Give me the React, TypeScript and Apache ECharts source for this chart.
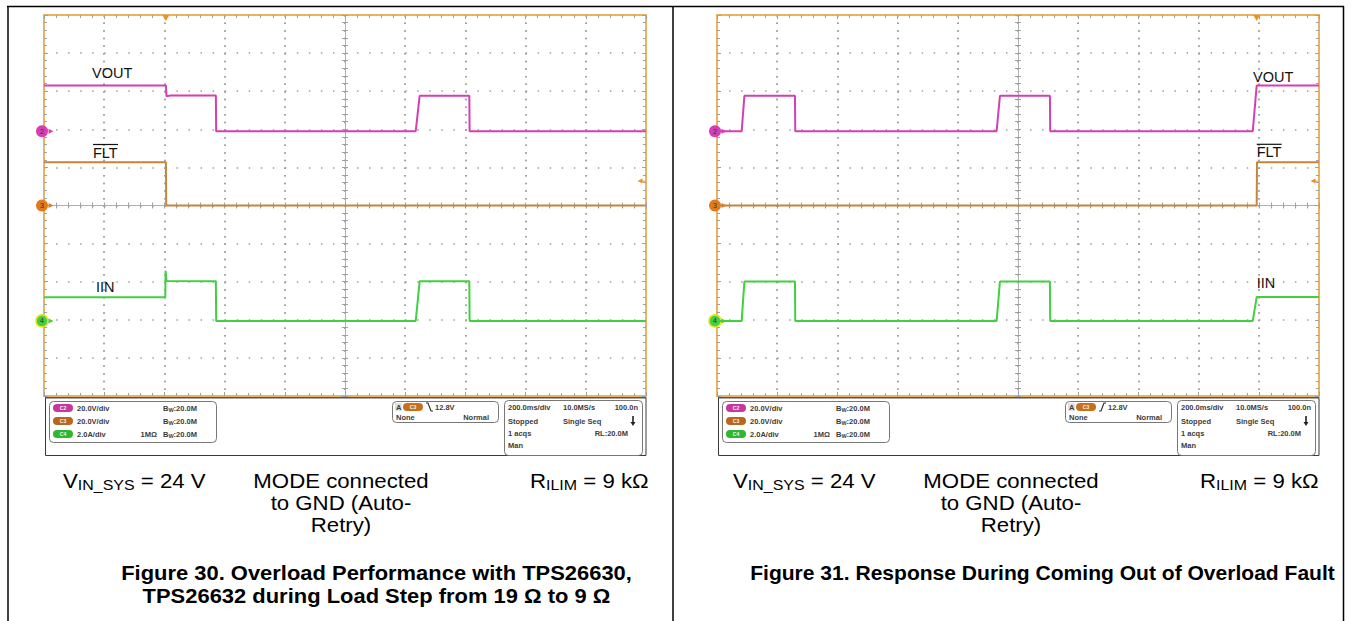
import React, { useEffect, useRef } from "react";
import * as echarts from "echarts";

// ---------- scope settings (shared by both captures) ----------
const msPerDiv = 200; // 200.0 ms/div
const timeDivs = 10;
const vertHalfDivs = 5;
const voutVoltsPerDiv = 20; // C2 20.0 V/div
const fltVoltsPerDiv = 20; // C3 20.0 V/div
const iinAmpsPerDiv = 2; // C4 2.0 A/div
const voutOffsetDiv = 1.95;
const fltOffsetDiv = 0;
const iinOffsetDiv = -3.03;
const triggerLevelV = 12.8;

// ---------- Figure 30: [screen time ms, value] ----------
const fig30Vout = [[0, 24], [405, 24], [407, 18.4], [420, 18.7], [571, 18.7], [572, 0], [1235, 0], [1248, 18.6], [1413, 18.6], [1414, 0], [2000, 0]];
const fig30Flt = [[0, 22.7], [405, 22.7], [406, 0], [2000, 0]];
const fig30Iin = [[0, 1.24], [403, 1.24], [404, 2.63], [407, 2.1], [571, 2.08], [572, 0], [1235, 0], [1248, 2.08], [1413, 2.08], [1414, 0], [2000, 0]];
const fig30TriggerMs = 405;

// ---------- Figure 31: [screen time ms, value] ----------
const fig31Vout = [[0, 0], [82, 0], [91, 18.6], [259, 18.6], [260, 0], [929, 0], [940, 18.6], [1106, 18.6], [1107, 0], [1780, 0], [1793, 24], [2000, 24]];
const fig31Flt = [[0, 0], [1793, 0], [1794, 22.7], [2000, 22.7]];
const fig31Iin = [[0, 0], [82, 0], [91, 2.07], [259, 2.07], [260, 0], [929, 0], [940, 2.07], [1106, 2.07], [1107, 0], [1780, 0], [1793, 1.26], [2000, 1.26]];
const fig31TriggerMs = 1793;

// ---------- texts ----------
const channelNumbers = ["2", "3", "4"];
const traceNames = ["VOUT", "FLT", "IIN"];
const channelScaleTexts = ["20.0V/div", "20.0V/div", "2.0A/div"];
const bandwidthText = ":20.0M";
const timebaseTexts = [["200.0ms/div", "10.0MS/s", "100.0n"], ["Stopped", "Single Seq"], ["1 acqs", "RL:20.0M"], ["Man"]];
const figureTitles = [
  "Figure 30. Overload Performance with TPS26630,\nTPS26632 during Load Step from 19 Ω to 9 Ω",
  "Figure 31. Response During Coming Out of Overload Fault",
];
const modeText = "MODE connected\nto GND (Auto-\nRetry)";

// ---------- style ----------
const ORANGE = "#e7b463";
const TICK = "#a0a0a0";
const DOT = "#9e9e9e";
const CENTER = "#b0b0b0";
const VOUT_C = "#d43fb3";
const FLT_C = "#c7843c";
const IIN_C = "#40d040";
const TRIG_C = "#f0901e";
const FONT = "'Liberation Sans', Arial, Helvetica, sans-serif";

const GRID_TOP = 15;
const GRID_W = 602;
const GRID_H = 381;
const panelLefts = [44, 717];
const halfMs = (msPerDiv * timeDivs) / 2;

const toDiv = (offset: number, perDiv: number) => (p: number[]) => [p[0] - halfMs, offset + p[1] / perDiv];

function buildAxes(p: number) {
  const xBase: any = {
    type: "value",
    gridIndex: p,
    min: -halfMs,
    max: halfMs,
    interval: msPerDiv,
    axisLabel: { show: false },
  };
  const yBase: any = {
    type: "value",
    gridIndex: p,
    min: -vertHalfDivs,
    max: vertHalfDivs,
    interval: 1,
    axisLabel: { show: false },
  };
  const border = { show: true, onZero: false, lineStyle: { color: ORANGE, width: 2 } };
  const ticks = (inside: boolean, len: number) => ({ show: true, inside, length: len, lineStyle: { color: TICK, width: 1 } });
  const minor = (len: number) => ({ show: true, splitNumber: 5, length: len, lineStyle: { color: TICK, width: 1 } });
  const center = (idx: number) => ({ show: true, onZero: true, onZeroAxisIndex: idx, lineStyle: { color: CENTER, width: 1 } });
  const off = { show: false };
  const vDots = { show: true, lineStyle: { color: DOT, width: 1.5, type: [1.5, GRID_H / 50 - 1.5] } };
  const xs = [
    { ...xBase, position: "bottom", axisLine: border, axisTick: ticks(true, 4), minorTick: minor(3), splitLine: vDots },
    { ...xBase, position: "top", axisLine: border, axisTick: ticks(true, 4), minorTick: minor(3), splitLine: vDots },
    { ...xBase, position: "bottom", axisLine: center(4 * p), axisTick: ticks(true, 3), minorTick: minor(3), splitLine: off },
    { ...xBase, position: "bottom", axisLine: center(4 * p), axisTick: ticks(false, 3), minorTick: minor(3), splitLine: off },
  ];
  const ys = [
    {
      ...yBase,
      position: "left",
      axisLine: border,
      axisTick: ticks(true, 4),
      minorTick: minor(3),
      splitLine: { show: true, lineStyle: { color: DOT, width: 1.5, type: [1.5, GRID_W / 50 - 1.5] } },
    },
    { ...yBase, position: "right", axisLine: border, axisTick: ticks(true, 4), minorTick: minor(3), splitLine: off },
    { ...yBase, position: "left", axisLine: center(4 * p), axisTick: ticks(true, 3), minorTick: minor(3), splitLine: off },
    { ...yBase, position: "left", axisLine: center(4 * p), axisTick: ticks(false, 3), minorTick: minor(3), splitLine: off },
  ];
  return { xs, ys };
}

function channelMarker(offset: number, color: string, num: string, ring?: string) {
  return [
    {
      coord: [-halfMs, offset],
      symbol: "circle",
      symbolSize: 12,
      symbolOffset: [-2, 0],
      itemStyle: { color, borderColor: ring || color, borderWidth: ring ? 1.5 : 0 },
      label: { show: true, formatter: num, fontSize: 7, color: "#333", fontFamily: FONT, position: "inside" },
    },
    {
      coord: [-halfMs, offset],
      symbol: "triangle",
      symbolSize: [5, 5],
      symbolRotate: -90,
      symbolOffset: [7, 0],
      itemStyle: { color },
      label: { show: false },
    },
  ];
}

function buildSeries(p: number, vout: number[][], flt: number[][], iin: number[][], trigMs: number) {
  const common = (name: string, color: string) => ({
    type: "line",
    name,
    xAxisIndex: 4 * p,
    yAxisIndex: 4 * p,
    showSymbol: false,
    symbol: "none",
    lineStyle: { color, width: 2 },
    itemStyle: { color },
    z: 5,
    silent: true,
  });
  return [
    {
      ...common("VOUT", VOUT_C),
      data: vout.map(toDiv(voutOffsetDiv, voutVoltsPerDiv)),
      markPoint: { silent: true, data: channelMarker(voutOffsetDiv, VOUT_C, channelNumbers[0]) },
    },
    {
      ...common("FLT", FLT_C),
      data: flt.map(toDiv(fltOffsetDiv, fltVoltsPerDiv)),
      markPoint: {
        silent: true,
        data: [
          ...channelMarker(fltOffsetDiv, "#e07a1a", channelNumbers[1]),
          {
            coord: [trigMs - halfMs, vertHalfDivs],
            symbol: "triangle",
            symbolSize: [7, 6],
            symbolRotate: 180,
            symbolOffset: [0, 3],
            itemStyle: { color: TRIG_C },
            label: { show: false },
          },
          {
            coord: [halfMs, fltOffsetDiv + triggerLevelV / fltVoltsPerDiv],
            symbol: "triangle",
            symbolSize: [5, 5],
            symbolRotate: 90,
            symbolOffset: [-6, 0],
            itemStyle: { color: TRIG_C },
            label: { show: false },
          },
          {
            coord: [halfMs, fltOffsetDiv + triggerLevelV / fltVoltsPerDiv],
            symbol: "rect",
            symbolSize: [4, 1],
            symbolOffset: [-3, 0],
            itemStyle: { color: TRIG_C },
            label: { show: false },
          },
        ],
      },
    },
    {
      ...common("IIN", IIN_C),
      data: iin.map(toDiv(iinOffsetDiv, iinAmpsPerDiv)),
      markPoint: { silent: true, data: channelMarker(iinOffsetDiv, IIN_C, channelNumbers[2], "#e6e020") },
    },
  ];
}

function txt(x: number, y: number, text: string, extra: any = {}) {
  return {
    type: "text",
    x,
    y,
    silent: true,
    style: {
      text,
      fill: "#3c3c3c",
      font: `bold 7.5px ${FONT}`,
      fontSize: 7.5,
      fontWeight: "bold",
      fontFamily: FONT,
      align: "left",
      textAlign: "left",
      verticalAlign: "middle",
      textVerticalAlign: "middle",
      ...extra,
    },
  };
}

function pill(x: number, y: number, color: string, label: string) {
  return [
    { type: "rect", silent: true, shape: { x, y: y - 4, width: 20, height: 8, r: 4 }, style: { fill: color } },
    txt(x + 10, y, label, { fill: "#f3f3f3", fontSize: 5, font: `bold 5px ${FONT}`, align: "center", textAlign: "center" }),
  ];
}

function infoPanel(dx: number, rising: boolean) {
  const els: any[] = [];
  els.push({ type: "rect", silent: true, shape: { x: 45.5 + dx, y: 397.5, width: 600.5, height: 58 }, style: { fill: "#fff", stroke: "#3a3a3a", lineWidth: 1 } });
  els.push({ type: "line", silent: true, shape: { x1: 45 + dx, y1: 397.5, x2: 646 + dx, y2: 397.5 }, style: { stroke: "#555", lineWidth: 2 } });
  // channel box
  els.push({ type: "rect", silent: true, shape: { x: 49.5 + dx, y: 401.5, width: 167, height: 41, r: 4 }, style: { fill: "none", stroke: "#777", lineWidth: 1 } });
  const rows = [408, 421, 434];
  const pillColors = ["#c8379e", "#b9671f", "#2fb82f"];
  const pillLabels = ["C2", "C3", "C4"];
  rows.forEach((ry, i) => {
    els.push(...pill(53 + dx, ry, pillColors[i], pillLabels[i]));
    els.push(txt(77 + dx, ry, channelScaleTexts[i]));
    els.push(
      txt(163 + dx, ry, `{b|B}{s|W}{b|${bandwidthText}}`, {
        rich: {
          b: { fontSize: 7.5, fontWeight: "bold", fontFamily: FONT, fill: "#3c3c3c", lineHeight: 10, verticalAlign: "middle" },
          s: { fontSize: 5.5, fontWeight: "bold", fontFamily: FONT, fill: "#3c3c3c", lineHeight: 6, verticalAlign: "bottom" },
        },
      })
    );
  });
  els.push(txt(157 + dx, rows[2], "1MΩ", { align: "right", textAlign: "right" }));
  // trigger box
  els.push({ type: "rect", silent: true, shape: { x: 392.5 + dx, y: 401.5, width: 106, height: 21, r: 4 }, style: { fill: "none", stroke: "#777", lineWidth: 1 } });
  els.push({ type: "rect", silent: true, shape: { x: 395 + dx, y: 403, width: 7, height: 8 }, style: { fill: "#e2e2e2" } });
  els.push(txt(396 + dx, 407, "A"));
  els.push(...pill(403 + dx, 407, "#c9701f", "C3"));
  els.push({
    type: "polyline",
    silent: true,
    shape: {
      points: rising
        ? [[426 + dx, 411], [428 + dx, 411], [431 + dx, 403], [433 + dx, 403]]
        : [[426 + dx, 403], [428 + dx, 403], [431 + dx, 411], [433 + dx, 411]],
    },
    style: { stroke: "#333", lineWidth: 1.2, fill: "none" },
  });
  els.push(txt(435 + dx, 407, "12.8V"));
  els.push(txt(396 + dx, 417, "None"));
  els.push(txt(489 + dx, 417, "Normal", { align: "right", textAlign: "right" }));
  // timebase box
  els.push({ type: "rect", silent: true, shape: { x: 504.5 + dx, y: 400.5, width: 138, height: 55, r: 4 }, style: { fill: "none", stroke: "#777", lineWidth: 1 } });
  const ty = [407, 421, 433, 445];
  els.push(txt(508 + dx, ty[0], timebaseTexts[0][0]));
  els.push(txt(563 + dx, ty[0], timebaseTexts[0][1]));
  els.push(txt(638 + dx, ty[0], timebaseTexts[0][2], { align: "right", textAlign: "right" }));
  els.push(txt(508 + dx, ty[1], timebaseTexts[1][0]));
  els.push(txt(563 + dx, ty[1], timebaseTexts[1][1]));
  els.push({ type: "line", silent: true, shape: { x1: 633 + dx, y1: 416, x2: 633 + dx, y2: 423 }, style: { stroke: "#222", lineWidth: 1.6 } });
  els.push({ type: "polygon", silent: true, shape: { points: [[630.5 + dx, 422], [635.5 + dx, 422], [633 + dx, 426]] }, style: { fill: "#222" } });
  els.push(txt(508 + dx, ty[2], timebaseTexts[2][0]));
  els.push(txt(628 + dx, ty[2], timebaseTexts[2][1], { align: "right", textAlign: "right" }));
  els.push(txt(508 + dx, ty[3], timebaseTexts[3][0]));
  return els;
}

function labelText(x: number, y: number, text: string) {
  return {
    type: "text",
    x,
    y,
    silent: true,
    z: 10,
    style: { text, fill: "#111", fontSize: 14.5, fontFamily: FONT, align: "left", textAlign: "left", verticalAlign: "middle", textVerticalAlign: "middle" },
  };
}

function fltLabel(x: number, y: number) {
  return [
    labelText(x, y, traceNames[1]),
    { type: "line", silent: true, z: 10, shape: { x1: x, y1: y - 8, x2: x + 25, y2: y - 8 }, style: { stroke: "#111", lineWidth: 1.2 } },
  ];
}

const CAP_SCALE_X = 1.14;
const capRich = {
  m: { fontSize: 19.5, fontFamily: FONT, fill: "#000", lineHeight: 22, verticalAlign: "middle" },
  s: { fontSize: 14, fontFamily: FONT, fill: "#000", lineHeight: 12.6, verticalAlign: "bottom" },
};

function capText(x: number, y: number, text: string, align: string, extra: any = {}, scaleX = CAP_SCALE_X) {
  return {
    type: "text",
    x,
    y,
    scaleX,
    silent: true,
    style: {
      text,
      fill: "#000",
      fontSize: 19.5,
      fontFamily: FONT,
      lineHeight: 22,
      align,
      textAlign: align,
      verticalAlign: "top",
      textVerticalAlign: "top",
      ...extra,
    },
  };
}

function captions(dx: number, titleIdx: number, titleX: number, titleScale: number) {
  return [
    capText(63 + dx, 470, "{m|V}{s|IN_SYS}{m| = 24 V}", "left", { rich: capRich }),
    capText(341 + dx, 470, modeText, "center"),
    capText(530 + dx, 470, "{m|R}{s|ILIM}{m| = 9 kΩ}", "left", { rich: capRich }),
    capText(titleX, 561.5, figureTitles[titleIdx], "center", { fontWeight: "bold", fontSize: 19.5, lineHeight: 23 }, titleScale),
  ];
}

function frameLines() {
  const st = { stroke: "#000", lineWidth: 1.5 };
  return [
    { type: "line", silent: true, shape: { x1: 7, y1: 6.5, x2: 1344, y2: 6.5 }, style: st },
    { type: "line", silent: true, shape: { x1: 8, y1: 6, x2: 8, y2: 621 }, style: st },
    { type: "line", silent: true, shape: { x1: 673, y1: 6, x2: 673, y2: 621 }, style: st },
    { type: "line", silent: true, shape: { x1: 1343.5, y1: 6, x2: 1343.5, y2: 621 }, style: st },
  ];
}

export default function App() {
  const ref = useRef<HTMLDivElement>(null);
  useEffect(() => {
    if (!ref.current) return;
    const chart = echarts.init(ref.current, undefined, { renderer: "svg" });
    const a0 = buildAxes(0);
    const a1 = buildAxes(1);
    const option: any = {
      animation: false,
      backgroundColor: "#ffffff",
      grid: panelLefts.map((l) => ({ left: l, top: GRID_TOP, width: GRID_W, height: GRID_H, containLabel: false })),
      xAxis: [...a0.xs, ...a1.xs],
      yAxis: [...a0.ys, ...a1.ys],
      series: [
        ...buildSeries(0, fig30Vout, fig30Flt, fig30Iin, fig30TriggerMs),
        ...buildSeries(1, fig31Vout, fig31Flt, fig31Iin, fig31TriggerMs),
      ],
      graphic: {
        elements: [
          ...frameLines(),
          ...infoPanel(0, false),
          ...infoPanel(673, true),
          labelText(92, 72.7, traceNames[0]),
          ...fltLabel(93, 152.5),
          labelText(96, 286.7, traceNames[2]),
          labelText(1253, 77, traceNames[0]),
          ...fltLabel(1256.7, 152.3),
          labelText(1256.7, 282.7, traceNames[2]),
          ...captions(0, 0, 376.5, 1.125),
          ...captions(670, 1, 1042.5, 1.08),
        ],
      },
    };
    chart.setOption(option);
    return () => chart.dispose();
  }, []);
  return <div ref={ref} style={{ position: "fixed", left: 0, top: 0, width: 1351, height: 621, background: "#fff" }} />;
}
